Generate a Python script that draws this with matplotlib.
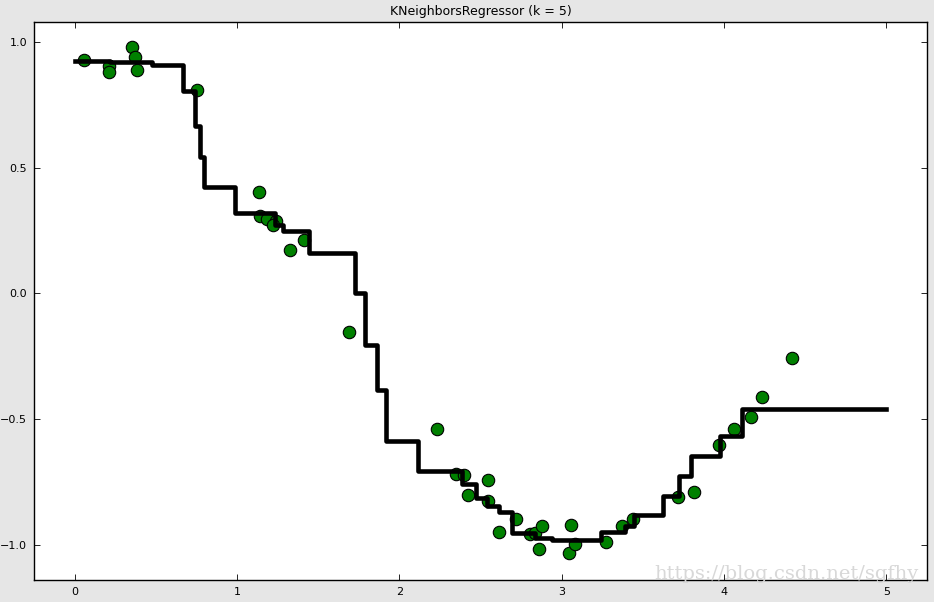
import numpy as np
import matplotlib
matplotlib.use('Agg')
import matplotlib.pyplot as plt

# training samples
X = [0.055, 0.209, 0.209, 0.351, 0.369, 0.382, 0.751, 1.133, 1.145, 1.188,
     1.238, 1.225, 1.324, 1.416, 1.693, 2.235, 2.352, 2.401, 2.420, 2.549,
     2.549, 2.617, 2.716, 2.802, 2.833, 2.876, 2.863, 3.060, 3.042, 3.085,
     3.276, 3.374, 3.442, 3.719, 3.818, 3.972, 4.064, 4.163, 4.236, 4.421]
y = [0.930, 0.903, 0.883, 0.982, 0.942, 0.891, 0.811, 0.402, 0.310, 0.298,
     0.290, 0.274, 0.171, 0.211, -0.155, -0.541, -0.720, -0.724, -0.803, -0.744,
     -0.827, -0.950, -0.899, -0.958, -0.954, -0.926, -1.018, -0.922, -1.034, -0.998,
     -0.990, -0.926, -0.899, -0.811, -0.791, -0.604, -0.541, -0.493, -0.410, -0.258]

# prediction: step start positions and values
T_edges = [0.0, 0.216, 0.474, 0.665, 0.739, 0.770, 0.794, 0.991, 1.232, 1.281,
           1.441, 1.724, 1.786, 1.860, 1.921, 2.118, 2.389, 2.475, 2.543, 2.617,
           2.691, 2.833, 2.943, 3.245, 3.387, 3.448, 3.621, 3.725, 3.799, 3.978,
           4.113, 5.0]
y_pred = [0.926, 0.921, 0.908, 0.806, 0.668, 0.543, 0.424, 0.321, 0.274, 0.250,
          0.160, 0.000, -0.206, -0.385, -0.588, -0.706, -0.760, -0.812, -0.845, -0.871,
          -0.953, -0.972, -0.979, -0.949, -0.925, -0.881, -0.805, -0.726, -0.647, -0.567,
          -0.461]

fig = plt.figure(figsize=(9.34, 6.02), dpi=100, facecolor='#e6e6e6')
ax = fig.add_axes([34/934, 22/602, 893/934, 558/602])

ax.scatter(X, y, s=80, c='g', edgecolors='k', linewidths=0.8, zorder=2)
# line drawn over the points, like the original
ax.plot(T_edges, y_pred + [y_pred[-1]], drawstyle='steps-post', color='k', lw=3.3, zorder=3)

ax.set_xlim(-0.25, 5.25)
ax.set_ylim(-1.14, 1.08)
ax.set_xticks([0, 1, 2, 3, 4, 5])
ax.set_xticklabels(['0', '1', '2', '3', '4', '5'])
ax.set_yticks([-1.0, -0.5, 0.0, 0.5, 1.0])
ax.set_yticklabels(['\u22121.0', '\u22120.5', '0.0', '0.5', '1.0'])
ax.tick_params(direction='in', top=True, right=True, length=4, width=0.6,
               labelsize=8, pad=5)
for s in ax.spines.values():
    s.set_linewidth(1.0)
ax.set_title('KNeighborsRegressor (k = 5)', fontsize=9, pad=5)

fig.text(0.983, 0.032, 'https://blog.csdn.net/sgfhy', ha='right', va='bottom',
         fontsize=14, family='DejaVu Serif', color='#d8d8d8', zorder=10)

fig.savefig('out.png', dpi=100, facecolor=fig.get_facecolor())
